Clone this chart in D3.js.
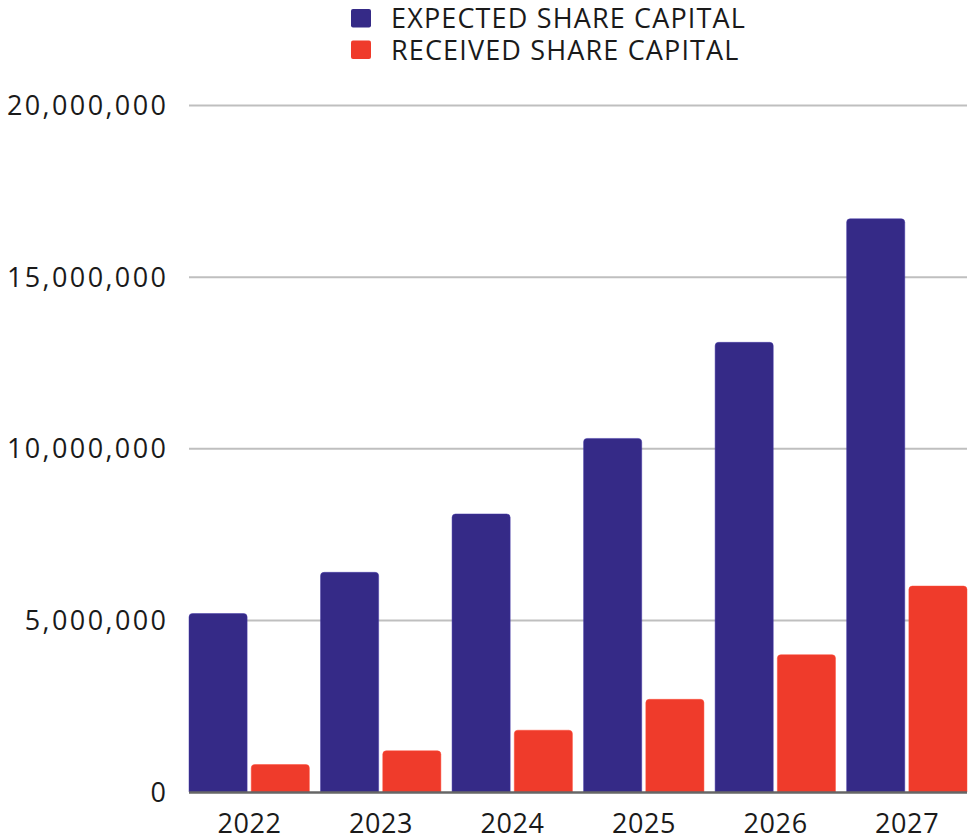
<!DOCTYPE html>
<html>
<head>
<meta charset="utf-8">
<script src="https://cdn.jsdelivr.net/npm/d3@7"></script>
<style>
  html, body { margin: 0; padding: 0; background: #fff; }
  svg { display: block; }
  text { font-family: "Open Sans", "Noto Sans", sans-serif; fill: #1a1a1a; }
</style>
</head>
<body>
<svg id="chart" width="974" height="838"></svg>
<script>
// Share capital per year (in units)
const years = ["2022", "2023", "2024", "2025", "2026", "2027"];
const seriesNames = ["EXPECTED SHARE CAPITAL", "RECEIVED SHARE CAPITAL"];
const expectedCapital = [5200000, 6400000, 8100000, 10300000, 13100000, 16700000];
const receivedCapital = [800000, 1200000, 1800000, 2700000, 4000000, 6000000];
const yTicks = [0, 5000000, 10000000, 15000000, 20000000];
const seriesColors = ["#352a87", "#ef3b2b"];

const seriesValues = [expectedCapital, receivedCapital];
const rows = years.map((year, i) => ({
  year,
  values: seriesNames.map((name, s) => ({ name, value: seriesValues[s][i], color: seriesColors[s] }))
}));

const svg = d3.select("#chart");
const plot = { left: 189, right: 967, top: 105.5, bottom: 792 };

const x0 = d3.scaleBand()
  .domain(years)
  .range([plot.left, plot.right])
  .paddingInner(0.085)
  .paddingOuter(0);

const x1 = d3.scaleBand()
  .domain(seriesNames)
  .range([0, x0.bandwidth()])
  .paddingInner(0.066)
  .paddingOuter(0);

const y = d3.scaleLinear()
  .domain([0, 20000000])
  .range([plot.bottom, plot.top]);

// Horizontal gridlines
svg.append("g")
  .selectAll("line")
  .data(yTicks.filter(d => d > 0))
  .join("line")
  .attr("x1", plot.left)
  .attr("x2", plot.right)
  .attr("y1", d => y(d))
  .attr("y2", d => y(d))
  .attr("stroke", "#bfbfbf")
  .attr("stroke-width", 2);

// Y axis labels (letter-spacing also trails the last glyph, so shift the anchor)
const fmt = d3.format(",");
const yLabelSpacing = 2.4;
svg.append("g")
  .selectAll("text")
  .data(yTicks)
  .join("text")
  .attr("x", 166 + yLabelSpacing)
  .attr("y", d => y(d))
  .attr("dy", "0.36em")
  .attr("text-anchor", "end")
  .attr("font-size", 27)
  .attr("letter-spacing", yLabelSpacing)
  .text(d => fmt(d));

// Bars with rounded top corners
function barPath(x, w, yTop, yBase, r) {
  const h = yBase - yTop;
  const rr = Math.min(r, h / 2, w / 2);
  return `M${x},${yBase}` +
    `V${yTop + rr}` +
    `Q${x},${yTop} ${x + rr},${yTop}` +
    `H${x + w - rr}` +
    `Q${x + w},${yTop} ${x + w},${yTop + rr}` +
    `V${yBase}Z`;
}

const groups = svg.append("g")
  .selectAll("g")
  .data(rows)
  .join("g")
  .attr("transform", d => `translate(${x0(d.year)},0)`);

groups.selectAll("path")
  .data(d => d.values)
  .join("path")
  .attr("d", d => barPath(x1(d.name), x1.bandwidth(), y(d.value), y(0), 3.5))
  .attr("fill", d => d.color)
  .attr("stroke", d => d3.color(d.color).brighter(0.6))
  .attr("stroke-width", 0.8)
  .attr("stroke-opacity", 0.6);

// Baseline
svg.append("line")
  .attr("x1", plot.left)
  .attr("x2", plot.right)
  .attr("y1", y(0) + 0.5)
  .attr("y2", y(0) + 0.5)
  .attr("stroke", "#666")
  .attr("stroke-width", 2.5);

// X axis labels
svg.append("g")
  .selectAll("text")
  .data(years)
  .join("text")
  .attr("x", d => x0(d) + x0.bandwidth() / 2 + 0.3)
  .attr("y", 833)
  .attr("text-anchor", "middle")
  .attr("font-size", 27)
  .attr("letter-spacing", 0.6)
  .text(d => d);

// Legend
const legend = svg.append("g")
  .selectAll("g")
  .data(seriesNames)
  .join("g")
  .attr("transform", (d, i) => `translate(351,${9 + i * 31.5})`);

legend.append("rect")
  .attr("width", 20)
  .attr("height", 18.5)
  .attr("rx", 2)
  .attr("fill", (d, i) => seriesColors[i]);

legend.append("text")
  .attr("x", 40)
  .attr("y", 19.3)
  .attr("font-size", 27)
  .attr("letter-spacing", 1.15)
  .text(d => d);
</script>
</body>
</html>
